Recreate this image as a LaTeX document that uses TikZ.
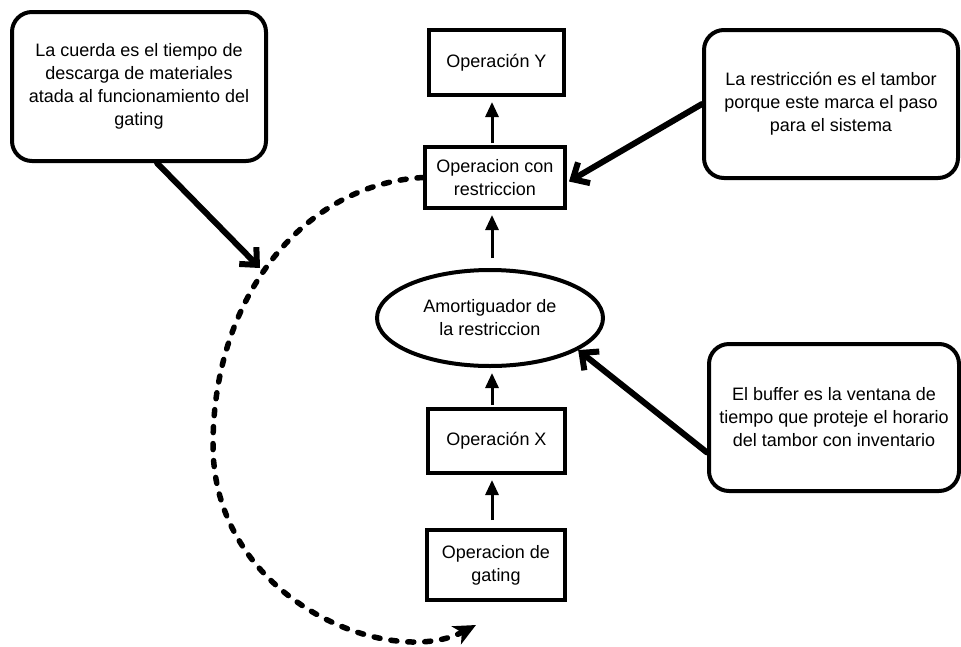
\documentclass[tikz,border=0pt]{standalone}
\usepackage{fontspec}
\setmainfont{Liberation Sans}
\usetikzlibrary{arrows.meta,shapes.geometric}
\begin{document}
\begin{tikzpicture}[x=1pt,y=-1pt,
  every node/.style={font=\fontsize{18pt}{23pt}\selectfont, align=center, inner sep=0pt},
  opbox/.style={draw, line width=4pt, rectangle},
  note/.style={draw, line width=4pt, rectangle, rounded corners=20pt},
  flow/.style={line width=3pt, -{Triangle[length=15pt,width=13pt]}, shorten >=5pt},
  pointer/.style={line width=6pt, line cap=round, -{Straight Barb[length=13pt,width=24pt,line width=6pt]}},
  rope/.style={line width=5.5pt, line cap=round, dash pattern=on 6pt off 11pt, -{Stealth[length=22pt,width=20pt,line cap=butt,inset=6pt]}}]
\useasboundingbox (0,0) rectangle (961,646);

% main chain of operations
\node[opbox, minimum width=135pt, minimum height=65pt] (opy) at (496.5,62.5) {Operación Y};
\node[opbox, minimum width=140pt, minimum height=61pt] (rest) at (495,177.5) {Operacion con\\restriccion};
\node[draw, ellipse, line width=4pt, minimum width=226pt, minimum height=96pt] (buf) at (490,318) {Amortiguador de\\la restriccion};
\node[opbox, minimum width=137pt, minimum height=64pt] (opx) at (496.5,441) {Operación X};
\node[opbox, minimum width=138pt, minimum height=70pt] (gate) at (496,565) {Operacion de\\gating};

% explanatory notes
\node[note, minimum width=254pt, minimum height=149pt] (cuerda) at (139,86.5) {La cuerda es el tiempo de\\descarga de materiales\\atada al funcionamiento del\\gating};
\node[note, minimum width=254pt, minimum height=148pt] (tambor) at (831,104) {La restricción es el tambor\\porque este marca el paso\\para el sistema};
\node[note, minimum width=250pt, minimum height=147pt] (buffer) at (834,417.5) {El buffer es la ventana de\\tiempo que proteje el horario\\del tambor con inventario};

% vertical axis shared by the flow arrows
\coordinate (axis) at (492,0);

% flow arrows
\draw[flow, shorten <=8pt] (gate.north -| axis) -- (opx.south -| axis);
\draw[flow, shorten <=2pt] (opx.north -| axis) -- (buf.south -| axis);
\draw[flow, shorten <=10pt] (buf.north -| axis) -- (rest.south -| axis);
\draw[flow, shorten <=2pt] (rest.north -| axis) -- (opy.south -| axis);

% rope from the constraint back to the gating operation
\coordinate (ropetip) at (260,268);
\draw[rope] (rest.west) .. controls (305,184) and (213,295) .. (213,445)
  .. controls (213,600) and (390,670) .. (476,625);

% note pointers
\draw[pointer] ([xshift=18pt]cuerda.south) -- (ropetip);
\draw[pointer] (tambor.west) -- ([xshift=2pt,yshift=-4pt]rest.east);
\draw[pointer] ([yshift=-35pt]buffer.west) -- (buf.-20);
\end{tikzpicture}
\end{document}
